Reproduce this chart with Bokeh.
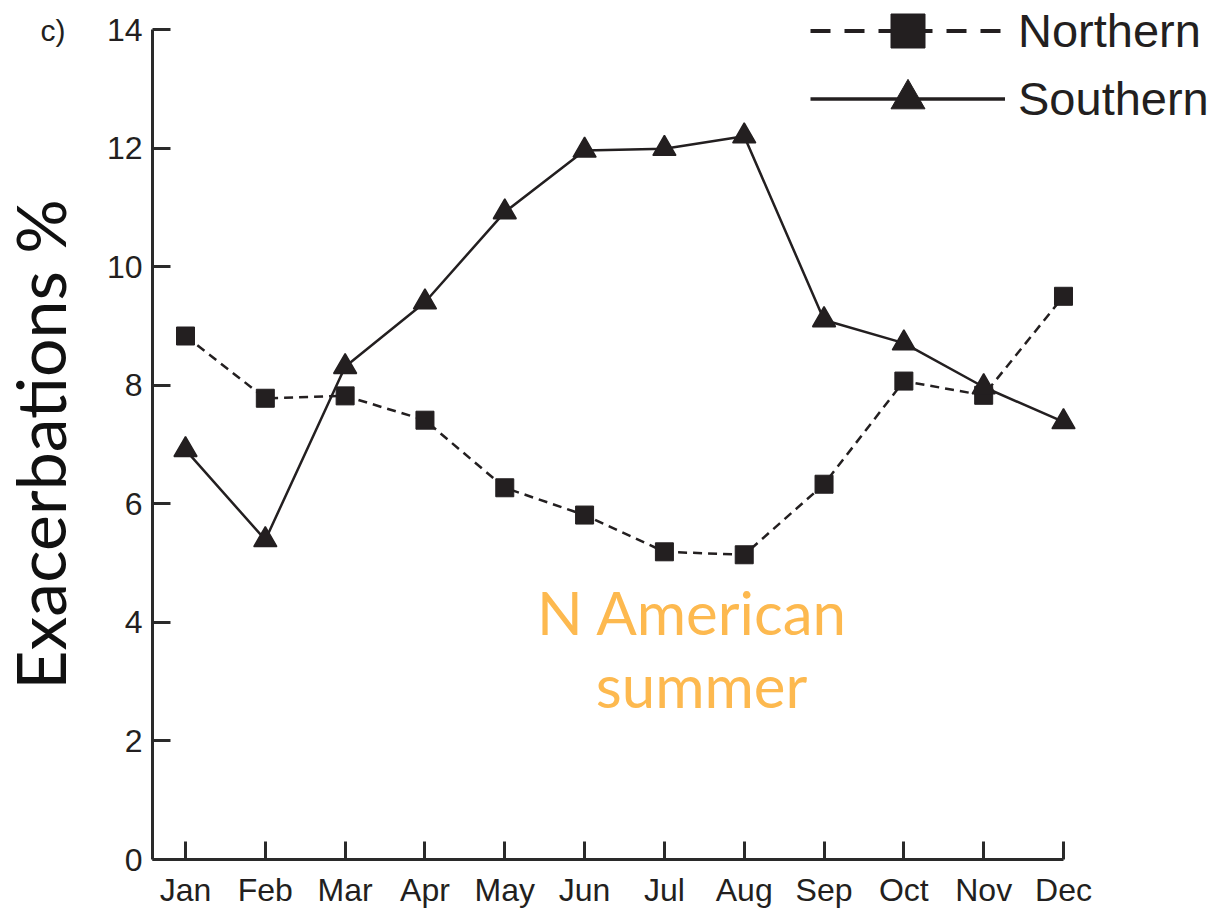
from bokeh.plotting import figure
from bokeh.models import ColumnDataSource, Legend, LegendItem, Label, FixedTicker, Range1d
from bokeh.embed import file_html
from bokeh.resources import INLINE

months = ["Jan", "Feb", "Mar", "Apr", "May", "Jun", "Jul", "Aug", "Sep", "Oct", "Nov", "Dec"]
month_idx = list(range(1, 13))
northern = [8.83, 7.78, 7.82, 7.41, 6.27, 5.81, 5.19, 5.14, 6.33, 8.07, 7.83, 9.50]
southern = [6.91, 5.39, 8.31, 9.40, 10.92, 11.96, 11.99, 12.20, 9.10, 8.71, 7.97, 7.38]
y_ticks = [0, 2, 4, 6, 8, 10, 12, 14]

src = ColumnDataSource(dict(x=month_idx, n=northern, s=southern))

INK = "#231f20"
p = figure(width=1213, height=908, output_backend="svg", toolbar_location=None,
           x_range=Range1d(-1.3178, 13.8793), y_range=Range1d(-0.8265, 14.4892))
p.min_border = 0
p.outline_line_color = None
p.grid.visible = False
p.background_fill_color = "white"
p.border_fill_color = "white"

ln = p.line("x", "n", source=src, line_color=INK, line_width=2.5, line_dash="9 6")
sn = p.scatter("x", "n", source=src, marker="square", size=18, fill_color=INK, line_color=INK)
ls = p.line("x", "s", source=src, line_color=INK, line_width=2.5)
ss = p.scatter("x", "s", source=src, marker="triangle", size=23, fill_color=INK, line_color=INK,
               line_width=1.5)

# hidden copies used only to draw the key with its larger symbols
lg_ln = p.line("x", "n", source=src, line_color=INK, line_width=4, line_dash="20 14", visible=False)
lg_sn = p.scatter("x", "n", source=src, marker="square", fill_color=INK, line_color=INK, visible=False)
lg_ls = p.line("x", "s", source=src, line_color=INK, line_width=3.5, visible=False)
lg_ss = p.scatter("x", "s", source=src, marker="triangle", fill_color=INK, line_color=INK, visible=False)

xa = p.xaxis[0]
ya = p.yaxis[0]
xa.fixed_location = 0
xa.bounds = (0.5866, 12)
ya.fixed_location = 0.5866
ya.bounds = (0, 14)
for ax in (xa, ya):
    ax.axis_line_width = 3
    ax.axis_line_color = "#2a2a2a"
    ax.major_tick_line_width = 3
    ax.major_tick_line_color = "#2a2a2a"
    ax.major_tick_in = 18
    ax.major_tick_out = 0
    ax.minor_tick_line_color = None
    ax.major_label_text_font = "Liberation Sans"
    ax.major_label_text_font_size = "32px"
    ax.major_label_text_color = INK

xa.ticker = FixedTicker(ticks=month_idx)
xa.major_label_overrides = {i: m for i, m in zip(month_idx, months)}
xa.major_label_standoff = 12
ya.ticker = FixedTicker(ticks=y_ticks)
ya.major_label_standoff = 10
ya.axis_label = "Exacerbations %"
ya.axis_label_text_font = "Lato"
ya.axis_label_text_font_style = "normal"
ya.axis_label_text_font_size = "68px"
ya.axis_label_text_color = "#111111"
ya.axis_label_standoff = 24


def key(label, rends, loc):
    return Legend(items=[LegendItem(label=label, renderers=rends)],
                  location=loc, glyph_width=195, glyph_height=85,
                  label_standoff=13, padding=0, margin=0,
                  label_text_font="Liberation Sans", label_text_font_size="47px",
                  label_text_color=INK, label_text_baseline="middle",
                  inactive_fill_alpha=0, border_line_color=None, background_fill_alpha=0)


p.add_layout(key("Northern", [lg_ln, lg_sn], (810, 835)), "center")
p.add_layout(key("Southern", [lg_ls, lg_ss], (810, 767)), "center")

ORANGE = "#FDB94F"
p.add_layout(Label(x=7.352, y=4.17, text="N American", text_align="center",
                   text_baseline="alphabetic", text_font="Lato", text_font_size="60px",
                   text_color=ORANGE))
p.add_layout(Label(x=7.465, y=2.94, text="summer", text_align="center",
                   text_baseline="alphabetic", text_font="Lato", text_font_size="60px",
                   text_color=ORANGE))
p.add_layout(Label(x=-0.8166, y=13.98, text="c)", text_align="left", text_baseline="alphabetic",
                   text_font="Liberation Sans", text_font_size="30px", text_color=INK))

open("out.html", "w").write(file_html(p, INLINE))
